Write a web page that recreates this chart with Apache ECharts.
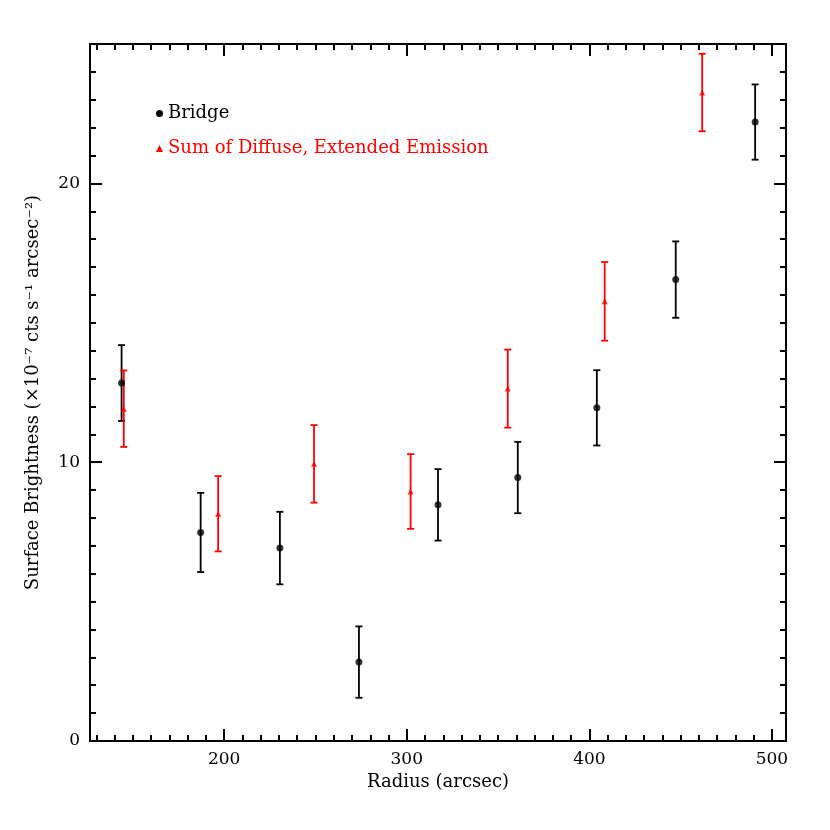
<!DOCTYPE html>
<html>
<head>
    <meta charset="utf-8"/>
    <title>Surface Brightness vs Radius</title>
    <script src="https://cdn.jsdelivr.net/npm/echarts@6/dist/echarts.min.js"></script>
    <style>
        html, body { margin: 0; padding: 0; background: #fff; }
        #chart { width: 830px; height: 830px; }
    </style>
</head>
<body>
<div id="chart"></div>
<script>
    // Bridge (black dots)
    var bridgeX = [143.8, 187.1, 230.5, 273.8, 317.1, 360.8, 404.1, 447.3, 490.8];
    var bridgeY = [12.84, 7.48, 6.92, 2.83, 8.47, 9.45, 11.95, 16.55, 22.2];
    var bridgeErr = [1.36, 1.42, 1.30, 1.28, 1.28, 1.28, 1.35, 1.37, 1.35];

    // Sum of Diffuse, Extended Emission (red triangles)
    var diffuseX = [145.0, 196.7, 249.2, 302.1, 355.3, 408.4, 461.8];
    var diffuseY = [11.92, 8.15, 9.94, 8.95, 12.64, 15.77, 23.26];
    var diffuseErr = [1.37, 1.35, 1.39, 1.34, 1.40, 1.41, 1.39];

    // tick labels
    var xMajor = [200, 300, 400, 500];
    var xMinor = [130, 140, 150, 160, 170, 180, 190, 210, 220, 230, 240, 250, 260, 270, 280, 290,
        310, 320, 330, 340, 350, 360, 370, 380, 390, 410, 420, 430, 440, 450, 460, 470, 480, 490];
    var yMajor = [0, 10, 20];
    var yMinor = [1, 2, 3, 4, 5, 6, 7, 8, 9, 11, 12, 13, 14, 15, 16, 17, 18, 19, 21, 22, 23, 24];

    var X_MIN = 126.5, X_MAX = 507.7, Y_MIN = 0, Y_MAX = 25;
    var FONT = 'DejaVu Serif';

    function points(xs, ys) {
        return xs.map(function (x, i) { return [x, ys[i]]; });
    }
    function bars(xs, ys, es) {
        return xs.map(function (x, i) { return [x, ys[i] - es[i], ys[i] + es[i]]; });
    }
    function errorBar(color) {
        return function (params, api) {
            var x = api.value(0);
            var lo = api.coord([x, api.value(1)]);
            var hi = api.coord([x, api.value(2)]);
            var w = 3.5;
            var st = { stroke: color, lineWidth: 1.8 };
            return {
                type: 'group',
                children: [
                    { type: 'line', shape: { x1: lo[0], y1: lo[1], x2: hi[0], y2: hi[1] }, style: st },
                    { type: 'line', shape: { x1: lo[0] - w, y1: lo[1], x2: lo[0] + w, y2: lo[1] }, style: st },
                    { type: 'line', shape: { x1: hi[0] - w, y1: hi[1], x2: hi[0] + w, y2: hi[1] }, style: st }
                ]
            };
        };
    }

    function xAx(pos, ticks, len, showLine, showLabel, name) {
        return {
            type: 'value', position: pos, min: X_MIN, max: X_MAX,
            name: name || '', nameLocation: 'middle', nameGap: 30,
            nameTextStyle: { fontFamily: FONT, fontSize: 18, color: '#000' },
            axisLine: { show: showLine, onZero: false, lineStyle: { color: '#000', width: 2 } },
            axisTick: { show: true, inside: true, length: len, customValues: ticks, lineStyle: { color: '#000', width: 2 } },
            axisLabel: { show: showLabel, customValues: ticks, margin: 10, fontFamily: FONT, fontSize: 17, color: '#000' },
            splitLine: { show: false }
        };
    }
    function yAx(pos, ticks, len, showLine, showLabel, name) {
        return {
            type: 'value', position: pos, min: Y_MIN, max: Y_MAX,
            name: name || '', nameLocation: 'middle', nameGap: 48,
            nameTextStyle: { fontFamily: FONT, fontSize: 18, color: '#000' },
            axisLine: { show: showLine, onZero: false, lineStyle: { color: '#000', width: 2 } },
            axisTick: { show: true, inside: true, length: len, customValues: ticks, lineStyle: { color: '#000', width: 2 } },
            axisLabel: { show: showLabel, customValues: ticks, margin: 10, fontFamily: FONT, fontSize: 17, color: '#000' },
            splitLine: { show: false }
        };
    }

    var option = {
        backgroundColor: '#fff',
        animation: false,
        grid: { left: 90, top: 44, right: 44, bottom: 89 },
        legend: {
            left: 156, top: 103, orient: 'vertical', padding: 0,
            itemGap: 14, itemWidth: 7, itemHeight: 7,
            textStyle: { fontFamily: FONT, fontSize: 18, lineHeight: 21 },
            data: [
                { name: 'Bridge', icon: 'circle', itemStyle: { color: '#000' }, textStyle: { color: '#000' } },
                { name: 'Sum of Diffuse, Extended Emission', icon: 'triangle', itemStyle: { color: '#ff0000' }, textStyle: { color: '#ff0000' } }
            ]
        },
        xAxis: [
            xAx('bottom', xMajor, 12, true, true, 'Radius (arcsec)'),
            xAx('bottom', xMinor, 6, false, false),
            xAx('top', xMajor, 12, true, false),
            xAx('top', xMinor, 6, false, false)
        ],
        yAxis: [
            yAx('left', yMajor, 12, true, true, 'Surface Brightness (\u00d710\u207b\u2077 cts s\u207b\u00b9 arcsec\u207b\u00b2)'),
            yAx('left', yMinor, 6, false, false),
            yAx('right', yMajor, 12, true, false),
            yAx('right', yMinor, 6, false, false)
        ],
        series: [
            {
                name: 'Bridge', type: 'custom', renderItem: errorBar('#000'),
                data: bars(bridgeX, bridgeY, bridgeErr), z: 2
            },
            {
                name: 'Sum of Diffuse, Extended Emission', type: 'custom', renderItem: errorBar('#ff0000'),
                data: bars(diffuseX, diffuseY, diffuseErr), z: 2
            },
            {
                name: 'Bridge', type: 'scatter', symbol: 'circle', symbolSize: 7,
                itemStyle: { color: '#000' }, data: points(bridgeX, bridgeY), z: 3
            },
            {
                name: 'Sum of Diffuse, Extended Emission', type: 'scatter', symbol: 'triangle', symbolSize: 6,
                itemStyle: { color: '#ff0000' }, data: points(diffuseX, diffuseY), z: 3
            }
        ]
    };

    var myChart = echarts.init(document.getElementById('chart'));
    myChart.setOption(option);
</script>
</body>
</html>
